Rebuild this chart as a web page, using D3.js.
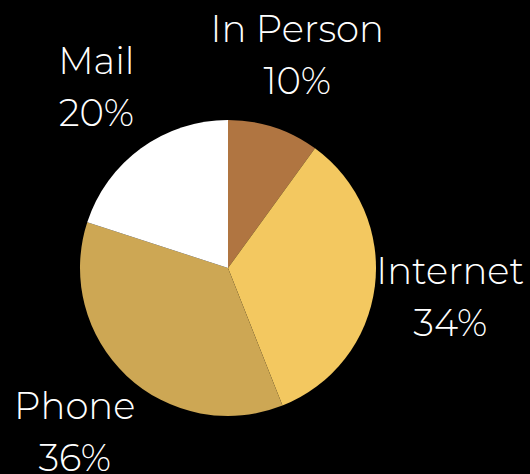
<!DOCTYPE html>
<html>
<head>
<meta charset="utf-8">
<script src="https://cdn.jsdelivr.net/npm/d3@7"></script>
<style>
  body { margin: 0; background: #000; }
</style>
</head>
<body>
<div id="chart"></div>
<script>
const categories = ["In Person", "Internet", "Phone", "Mail"];
const values = [10, 34, 36, 20];
const colors = ["#B07541", "#F3C860", "#CDA754", "#FFFFFF"];

const width = 530, height = 474,
    cx = 228, cy = 268,
    radius = 148,
    labelRadius = 224;

const data = categories.map((c, i) => ({ name: c, value: values[i], color: colors[i] }));

const svg = d3.select("#chart").append("svg")
    .attr("width", width)
    .attr("height", height)
    .style("background", "#000");

const g = svg.append("g").attr("transform", `translate(${cx},${cy})`);

const pie = d3.pie().sort(null).value(d => d.value);
const arc = d3.arc().innerRadius(0).outerRadius(radius);
const labelArc = d3.arc().innerRadius(labelRadius).outerRadius(labelRadius);

const arcs = pie(data);

g.selectAll("path")
    .data(arcs)
    .enter()
    .append("path")
    .attr("d", arc)
    .attr("fill", d => d.data.color);

const label = g.selectAll("text")
    .data(arcs)
    .enter()
    .append("text")
    .attr("transform", d => `translate(${labelArc.centroid(d)})`)
    .attr("text-anchor", "middle")
    .attr("fill", "#fff")
    .style("font-family", "Montserrat, 'Open Sans', sans-serif")
    .style("font-weight", 300)
    .style("font-size", "37px");

label.append("tspan")
    .attr("x", 0)
    .attr("y", -26)
    .attr("dominant-baseline", "central")
    .text(d => d.data.name);

label.append("tspan")
    .attr("x", 0)
    .attr("y", 26)
    .attr("dominant-baseline", "central")
    .text(d => d.data.value + "%");
</script>
</body>
</html>
